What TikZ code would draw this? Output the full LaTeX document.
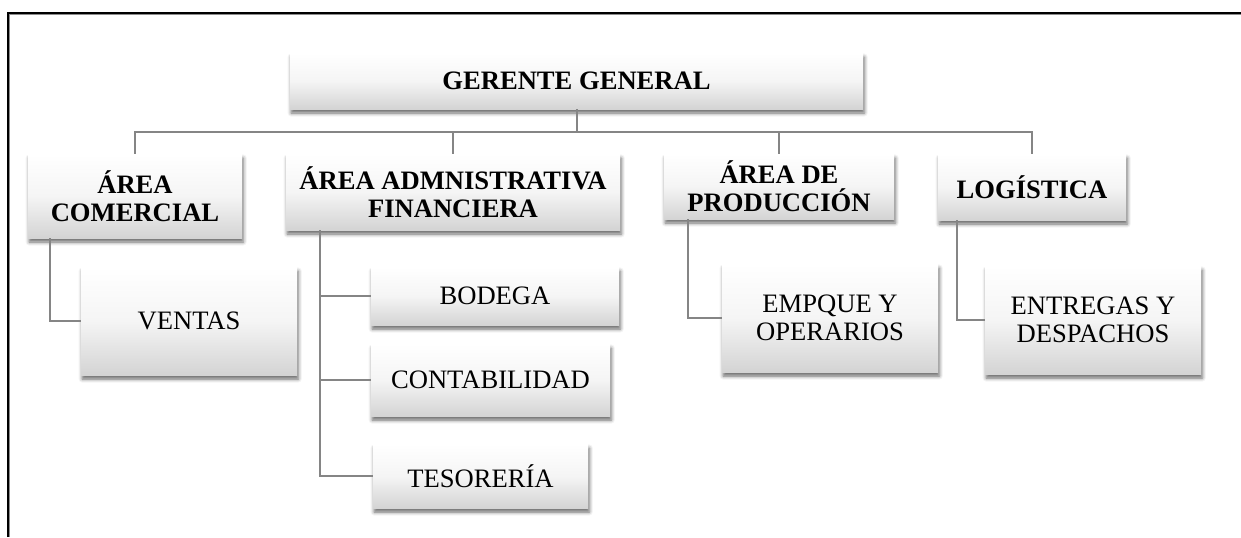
\documentclass[tikz,border=0pt]{standalone}
\usepackage{fontspec}
\setmainfont{Liberation Serif}
\usetikzlibrary{shadows.blur}

\begin{document}
\begin{tikzpicture}[
    x=0.5pt, y=-0.5pt,
    cargo/.style={inner sep=2pt, align=center, font=\fontsize{13.3}{14}\selectfont,
        top color=white, bottom color=black!17, middle color=white!96!black,
        blur shadow={shadow xshift=0.6pt, shadow yshift=-2pt, shadow blur radius=1.8pt, shadow opacity=60}},
    area/.style={cargo, font=\fontsize{13.3}{14}\selectfont\bfseries},
    linea/.style={draw=black!48, line width=1pt},
    marco/.style={line width=1pt}
]
\useasboundingbox (0,0) rectangle (1241,537);

% marco de la pagina
\draw[black!45, line width=0.5pt] (9.5,537) -- (9.5,14.5) -- (1241,14.5);
\draw[marco] (8,537) -- (8,13) -- (1241,13);

\node[area, minimum width=286.5pt, minimum height=28pt] (ger) at (576.5,81) {GERENTE GENERAL};

\node[area, minimum width=107pt, minimum height=42pt] (ac) at (135,196) {ÁREA\\COMERCIAL};
\node[area, minimum width=167pt, minimum height=38pt] (aaf) at (453,192) {ÁREA ADMNISTRATIVA\\FINANCIERA};
\node[area, minimum width=115pt, minimum height=32.5pt] (prod) at (779,186.5) {ÁREA DE\\PRODUCCIÓN};
\node[area, minimum width=94pt, minimum height=33pt] (log) at (1032,187) {LOGÍSTICA};

\node[cargo, minimum width=108pt, minimum height=54pt] (ven) at (189,321) {VENTAS};
\node[cargo, minimum width=124pt, minimum height=29pt] (bod) at (495,296) {BODEGA};
\node[cargo, minimum width=119.5pt, minimum height=36pt] (con) at (490.5,380) {CONTABILIDAD};
\node[cargo, minimum width=107.5pt, minimum height=32pt] (tes) at (480.5,476) {TESORERÍA};
\node[cargo, minimum width=108pt, minimum height=54pt] (emp) at (830,318) {EMPQUE Y\\OPERARIOS};
\node[cargo, minimum width=108pt, minimum height=54pt] (ent) at (1093,320) {ENTREGAS Y\\DESPACHOS};

% conectores
\coordinate (bus) at (576.5,132);
\draw[linea] (ger.south) -- (bus);
\foreach \n in {ac,aaf,prod,log}
    \draw[linea] (\n.north) |- (bus);

\draw[linea] (ac.south west) ++(22,0) |- (ven.west);
\draw[linea] (aaf.south west) ++(34,0) coordinate (ejeaaf) |- (tes.west);
\draw[linea] (ejeaaf |- bod.west) -- (bod.west);
\draw[linea] (ejeaaf |- con.west) -- (con.west);
\draw[linea] (prod.south west) ++(24,0) |- (emp.west);
\draw[linea] (log.south west) ++(19,0) |- (ent.west);
\end{tikzpicture}
\end{document}
